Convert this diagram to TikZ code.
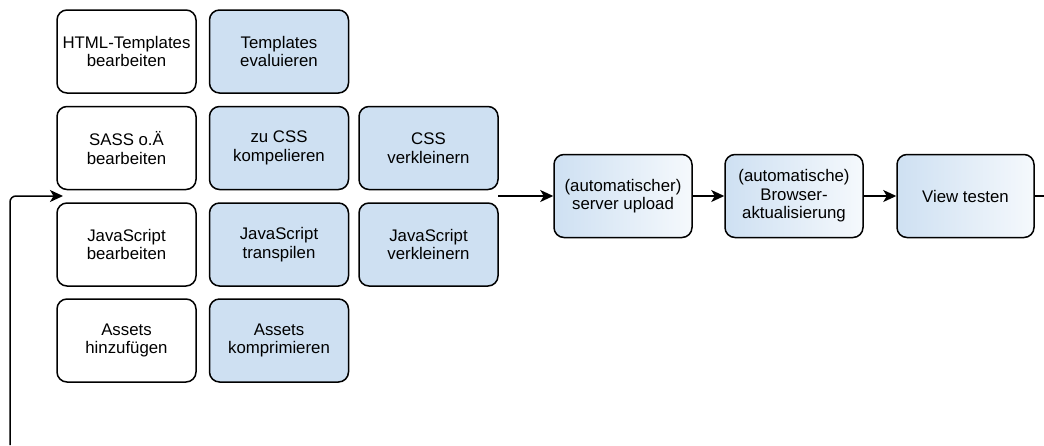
\documentclass[tikz,border=0pt]{standalone}
\usepackage{fontspec}
\setmainfont{Liberation Sans}
\usetikzlibrary{arrows.meta}
\definecolor{boxblue}{RGB}{206,224,242}

\begin{document}
\begin{tikzpicture}[x=1pt, y=-1pt, line width=1.5pt,
		every node/.style={rectangle, rounded corners=10pt, draw, align=center,
			minimum width=139pt, minimum height=83pt, inner sep=0pt,
			font=\fontsize{16.8}{18.5}\selectfont},
		build/.style={fill=boxblue},
		deploy/.style={left color=boxblue, right color=boxblue!20!white},
		arr/.style={-{Stealth[length=13pt,width=12pt,inset=3.5pt]}}]
	\useasboundingbox (0,0) rectangle (1044,445);

	% manual steps
	\node (html) at (126.5,51.5) {HTML-Templates\\bearbeiten};
	\node (sass) at (126.5,148) {SASS o.Ä\\bearbeiten};
	\node (js) at (126.5,244.5) {JavaScript\\bearbeiten};
	\node (assets) at (126.5,340.5) {Assets\\hinzufügen};

	% build steps
	\node[build] (tplEval) at (279,51.5) {Templates\\evaluieren};
	\node[build] (cssComp) at (279,148) {zu CSS\\kompelieren};
	\node[build] (jsTrans) at (279,244.5) {JavaScript\\transpilen};
	\node[build] (assetsComp) at (279,340.5) {Assets\\komprimieren};
	\node[build] (cssMin) at (428.5,148) {CSS\\verkleinern};
	\node[build] (jsMin) at (428.5,244.5) {JavaScript\\verkleinern};

	% deploy and test
	\node[deploy, minimum width=138pt] (upload) at (623,196) {(automatischer)\\server upload};
	\node[deploy, minimum width=138pt] (reload) at (794,196) {(automatische)\\Browser-\\aktualisierung};
	\node[deploy, minimum width=137pt] (viewtest) at (965.5,196) {View testen};

	\coordinate (merge) at (498,196);
	\coordinate (loopout) at (1044,196);
	\coordinate (loopin) at (10,445);
	\coordinate (loopback) at (63,196);

	\draw[arr] (merge) -- (upload);
	\draw[arr] (upload) -- (reload);
	\draw[arr] (reload) -- (viewtest);
	\draw (viewtest) -- (loopout);
	\draw[arr, rounded corners=6pt] (loopin) |- (loopback);
\end{tikzpicture}
\end{document}
